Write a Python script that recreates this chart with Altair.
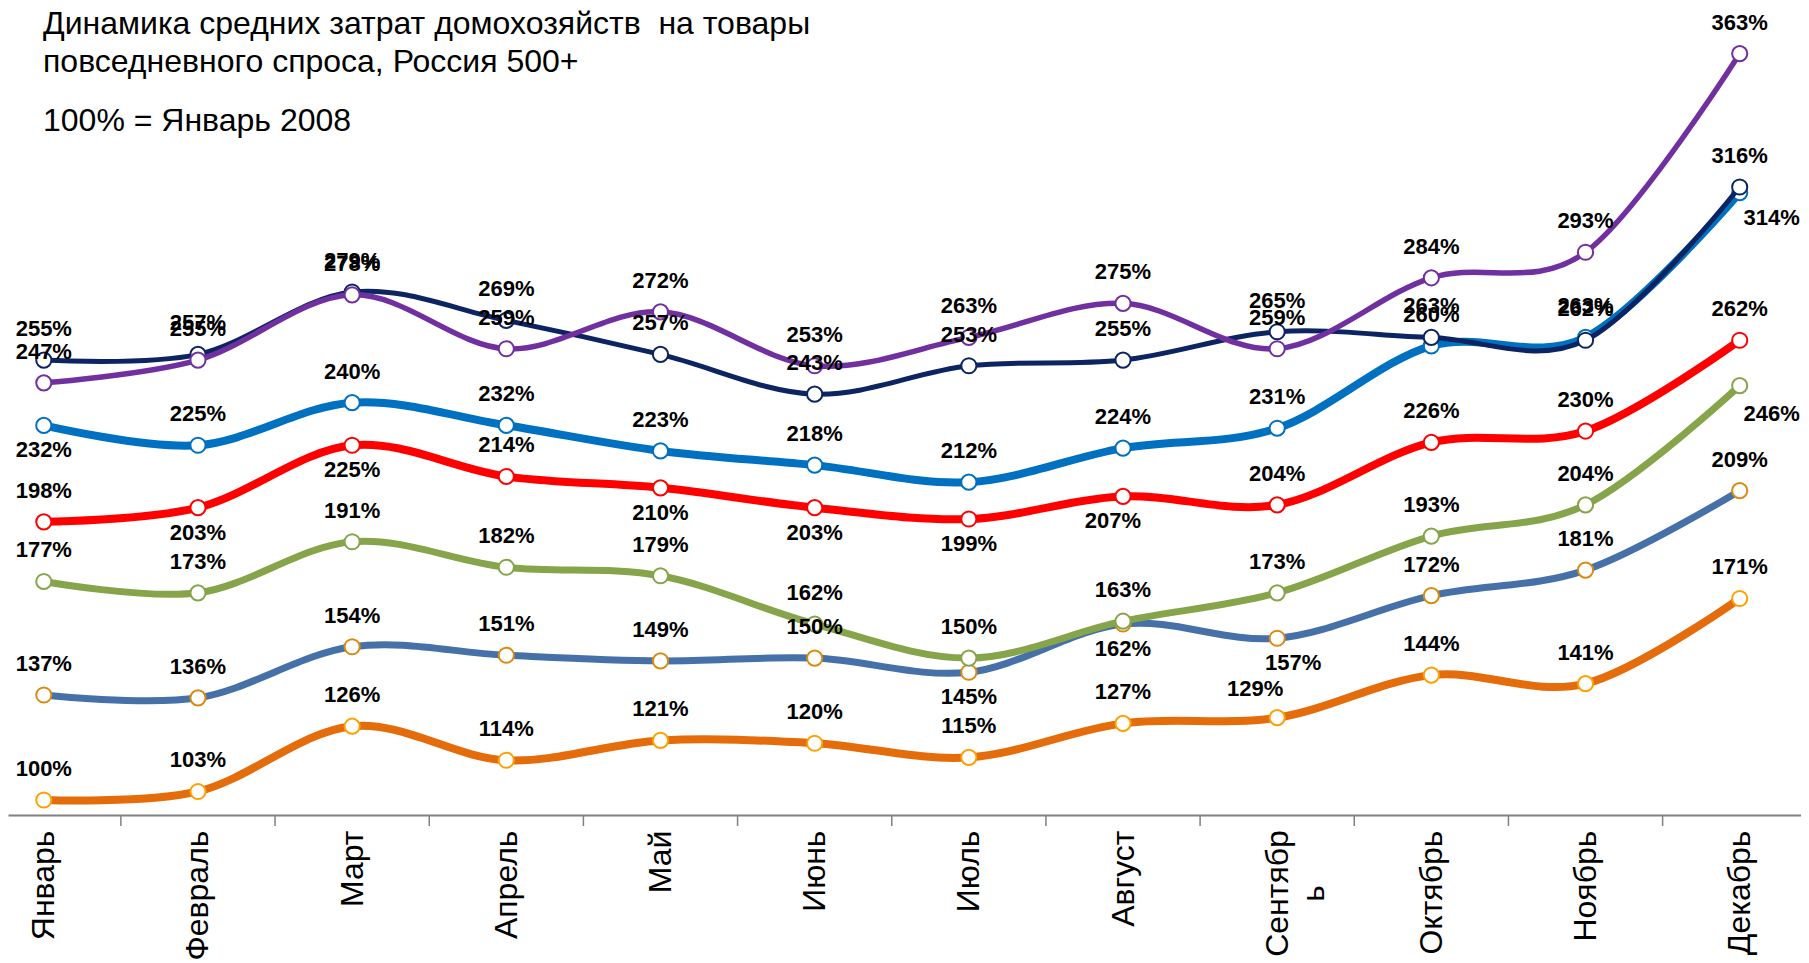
import json
import altair as alt
import pandas as pd

# ---------------- data ----------------
months = ["Январь", "Февраль", "Март", "Апрель", "Май", "Июнь",
          "Июль", "Август", "Сентябрь", "Октябрь", "Ноябрь", "Декабрь"]

s_orange = [100, 103, 126, 114, 121, 120, 115, 127, 129, 144, 141, 171]
s_steel = [137, 136, 154, 151, 149, 150, 145, 162, 157, 172, 181, 209]
s_green = [177, 173, 191, 182, 179, 162, 150, 163, 173, 193, 204, 246]
s_red = [198, 203, 225, 214, 210, 203, 199, 207, 204, 226, 230, 262]
s_blue = [232, 225, 240, 232, 223, 218, 212, 224, 231, 260, 263, 314]
s_navy = [255, 257, 279, 269, 257, 243, 253, 255, 265, 263, 262, 316]
s_purple = [247, 255, 278, 259, 272, 253, 263, 275, 259, 284, 293, 363]

title_lines = ["Динамика средних затрат домохозяйств\u00a0 на товары",
               "повседневного спроса, Россия 500+",
               "100% = Январь 2008"]

# ---------------- styles ----------------
series = [
    ("Ряд 1", s_orange, "#E46C0A", "#FFA000", 8),
    ("Ряд 2", s_steel, "#4571A8", "#DB8A10", 7),
    ("Ряд 3", s_green, "#86A44A", "#86A44A", 7),
    ("Ряд 4", s_red, "#FF0000", "#FF0000", 8),
    ("Ряд 5", s_blue, "#0070C0", "#0070C0", 8),
    ("Ряд 6", s_navy, "#0C2461", "#0C2461", 5),
    ("Ряд 7", s_purple, "#7030A0", "#7030A0", 5.5),
]

# label placement codes per series (a=above, b=below, r=right-below ...)
label_pos = {
    "Ряд 1": ["a"] * 8 + ["al"] + ["a"] * 3,
    "Ряд 2": ["a"] * 6 + ["b", "b", "br", "a", "a", "a"],
    "Ряд 3": ["a"] * 11 + ["r2"],
    "Ряд 4": ["a", "b", "b", "a", "b", "b", "b", "bl", "a", "a", "a", "a"],
    "Ряд 5": ["b"] + ["a"] * 10 + ["r1"],
    "Ряд 6": ["a"] * 12,
    "Ряд 7": ["a"] * 12,
}
placements = {
    "a": (0, -24), "al": (-22, -22), "b": (0, 32), "br": (16, 32),
    "bl": (-10, 32), "r1": (32, 32), "r2": (32, 35),
}

W, H = 1793, 807
x_dom = [-0.2322, 11.3976]
y_dom = [94.71, 379.07]

rows = []
for name, vals, _, _, _ in series:
    for i, v in enumerate(vals):
        rows.append({"series": name, "idx": i, "month": months[i], "value": v,
                     "label": f"{v}%", "pos": label_pos[name][i]})
df = pd.DataFrame(rows)

WRAPPED = {"Сентябрь": ["Сентябр", "ь"]}
label_expr = json.dumps([WRAPPED.get(m, m) for m in months], ensure_ascii=False) + "[datum.value]"
wrapped_idx = [i for i, m in enumerate(months) if m in WRAPPED]
wrap_test = " || ".join(f"datum.value == {i}" for i in wrapped_idx)

LABEL_SIZE = 32
x_scale = alt.Scale(domain=x_dom, nice=False, zero=False)
x_axis = alt.Axis(
    values=list(range(len(months))), labelExpr=label_expr,
    labelAngle=-90, labelFont="Liberation Sans", labelFontSize=LABEL_SIZE,
    labelColor="black",
    labelAlign={"condition": {"test": wrap_test, "value": "center"}, "value": "right"},
    labelPadding={"condition": {"test": wrap_test, "value": 78}, "value": 15},
    ticks=False, tickSize=0, grid=False, domainColor="#808080", domainWidth=2,
    labelLineHeight=36, labelOverlap=False, labelFlush=False)
x_enc = alt.X("idx:Q", scale=x_scale, axis=x_axis, title=None)
y_enc = alt.Y("value:Q", scale=alt.Scale(domain=y_dom, nice=False, zero=False), axis=None)

layers = []

# tick marks between categories
tick_df = pd.DataFrame({"idx": [i + 0.5 for i in range(len(months) - 1)]})
layers.append(
    alt.Chart(tick_df).mark_rule(color="#808080", strokeWidth=1.5).encode(
        x=x_enc, y=alt.value(H), y2=alt.value(H + 11))
)

for name, vals, lc, mc, lw in series:
    sub = df[df.series == name]
    layers.append(
        alt.Chart(sub).mark_line(color=lc, strokeWidth=lw, interpolate="cardinal").encode(
            x=x_enc, y=y_enc)
    )
    layers.append(
        alt.Chart(sub).mark_point(shape="circle", filled=False, fill="white", fillOpacity=1,
                                  stroke=mc, strokeWidth=2, size=230, opacity=1).encode(
            x=x_enc, y=y_enc)
    )

for code, (dx, dy) in placements.items():
    layers.append(
        alt.Chart(df).transform_filter(alt.datum.pos == code).mark_text(
            font="Liberation Sans", fontWeight="bold", fontSize=22, color="black",
            dx=dx, dy=dy, align="center", baseline="alphabetic").encode(
            x=x_enc, y=y_enc, text="label:N")
    )

for line, yb in zip(title_lines, [26, 64, 123]):
    layers.append(
        alt.Chart(pd.DataFrame({"t": [line]})).mark_text(
            align="left", baseline="alphabetic", font="Liberation Sans",
            fontSize=32, color="black").encode(
            x=alt.value(35), y=alt.value(yb), text="t:N")
    )

chart = alt.layer(*layers).properties(
    width=W, height=H, padding=0, background="white"
).configure_view(strokeWidth=0)

chart.save("out.html", embed_options={"renderer": "svg", "actions": False})
